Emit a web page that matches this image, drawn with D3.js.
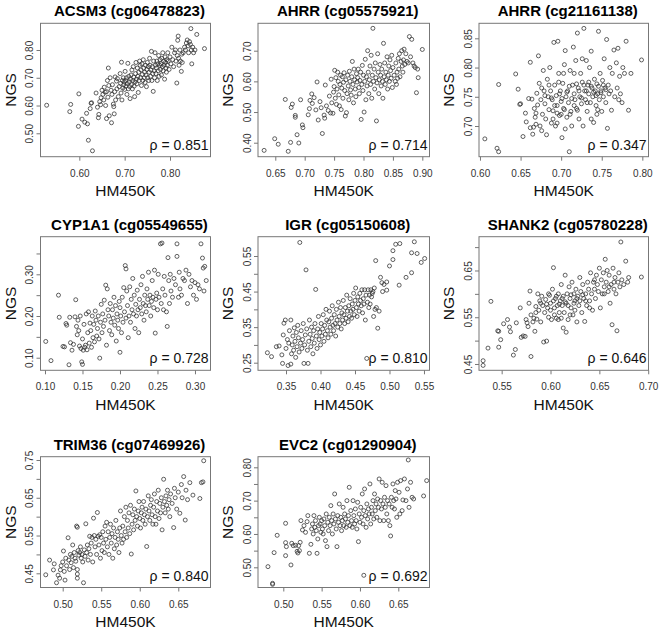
<!DOCTYPE html>
<html><head><meta charset="utf-8">
<script src="https://cdn.jsdelivr.net/npm/d3@7"></script>
<style>body{margin:0;background:#fff}svg{display:block}</style>
</head><body><svg id="c" width="660" height="630"></svg>
<script>
const titles = ["ACSM3 (cg06478823)","AHRR (cg05575921)","AHRR (cg21161138)","CYP1A1 (cg05549655)","IGR (cg05150608)","SHANK2 (cg05780228)","TRIM36 (cg07469926)","EVC2 (cg01290904)"];
const rhos = ["0.851","0.714","0.347","0.728","0.810","0.646","0.840","0.692"];
const xTicks = [[0.60,0.70,0.80],[0.65,0.70,0.75,0.80,0.85,0.90],[0.60,0.65,0.70,0.75,0.80],[0.10,0.15,0.20,0.25,0.30],[0.35,0.40,0.45,0.50,0.55],[0.55,0.60,0.65,0.70],[0.50,0.55,0.60,0.65],[0.50,0.55,0.60,0.65]];
const yTicks = [[0.50,0.60,0.70,0.80],[0.40,0.50,0.60,0.70],[0.70,0.75,0.80,0.85],[0.10,0.15,0.20,0.25,0.30,0.35],[0.25,0.30,0.35,0.40,0.45,0.50,0.55],[0.45,0.50,0.55,0.60,0.65,0.70],[0.45,0.50,0.55,0.60,0.65,0.70,0.75],[0.50,0.55,0.60,0.65,0.70,0.75,0.80]];
const yTickLabels = [[0.50,0.60,0.70,0.80],[0.40,0.50,0.60,0.70],[0.70,0.75,0.80,0.85],[0.10,0.20,0.30],[0.25,0.35,0.45,0.55],[0.45,0.55,0.65],[0.45,0.55,0.65,0.75],[0.50,0.60,0.70,0.80]];
const xDomains = [[0.5144,0.8893],[0.6206,0.9122],[0.5988,0.8076],[0.094,0.3207],[0.3094,0.558],[0.5268,0.7003],[0.4712,0.6918],[0.467,0.6907]];
const yDomains = [[0.4157,0.8961],[0.3544,0.7893],[0.6475,0.8757],[0.0698,0.3902],[0.2286,0.6043],[0.4365,0.7223],[0.4124,0.7587],[0.4394,0.8318]];

const acsm3 = [[0.528,0.601],[0.579,0.578],[0.581,0.604],[0.599,0.642],[0.598,0.525],[0.606,0.551],[0.612,0.540],[0.618,0.534],[0.620,0.475],[0.629,0.437],[0.616,0.572],[0.624,0.589],[0.626,0.608],[0.627,0.61],
[0.637,0.645],[0.640,0.594],[0.642,0.556],[0.643,0.568],[0.645,0.614],[0.647,0.603],[0.648,0.628],[0.650,0.655],[0.652,0.640],[0.654,0.620],[0.655,0.666],[0.657,0.648],[0.658,0.600],[0.660,0.553],[0.660,0.650],[0.662,0.690],[0.663,0.630],[0.664,0.735],[0.665,0.672],[0.666,0.563],
[0.668,0.700],[0.670,0.655],[0.671,0.538],[0.672,0.640],[0.673,0.675],[0.675,0.605],[0.676,0.596],[0.677,0.570],[0.678,0.650],[0.679,0.703],[0.680,0.620],[0.682,0.688],[0.683,0.660],[0.684,0.697],[0.686,0.632],[0.688,0.668],[0.690,0.715],[0.691,0.680],[0.692,0.645],[0.693,0.756],[0.694,0.620],[0.695,0.690],[0.696,0.663],[0.697,0.700],[0.698,0.675],[0.699,0.685],
[0.700,0.658],[0.701,0.723],[0.702,0.690],[0.703,0.670],[0.704,0.700],[0.705,0.640],[0.706,0.679],[0.707,0.752],[0.708,0.660],[0.709,0.705],[0.710,0.685],[0.711,0.668],[0.712,0.625],[0.713,0.695],[0.714,0.710],[0.715,0.675],[0.716,0.728],[0.717,0.660],[0.718,0.690],[0.719,0.740],[0.720,0.702],[0.721,0.670],[0.722,0.632],[0.723,0.685],[0.724,0.715],[0.725,0.755],[0.726,0.695],[0.727,0.678],[0.728,0.735],[0.729,0.705],[0.730,0.647],[0.731,0.720],[0.732,0.690],[0.733,0.760],[0.734,0.745],[0.735,0.700],[0.736,0.728],[0.737,0.672],[0.738,0.750],[0.739,0.712],[0.740,0.690],[0.741,0.765],[0.742,0.735],
[0.743,0.700],[0.744,0.720],[0.745,0.683],[0.746,0.745],[0.747,0.710],[0.748,0.668],[0.749,0.730],[0.750,0.755],[0.751,0.700],[0.752,0.740],[0.753,0.690],[0.754,0.720],[0.755,0.770],[0.756,0.745],[0.757,0.705],[0.758,0.728],[0.759,0.795],[0.760,0.690],[0.761,0.740],[0.762,0.715],[0.763,0.651],[0.764,0.760],[0.765,0.725],[0.766,0.700],[0.767,0.790],[0.768,0.745],[0.769,0.715],[0.770,0.735],[0.771,0.760],[0.772,0.690],[0.773,0.750],[0.774,0.725],[0.775,0.780],[0.776,0.705],[0.777,0.745],[0.778,0.765],[0.779,0.730],
[0.780,0.750],[0.781,0.710],[0.782,0.770],[0.783,0.740],[0.784,0.790],[0.785,0.725],[0.786,0.760],[0.787,0.745],[0.788,0.695],[0.789,0.775],[0.790,0.755],[0.791,0.735],[0.792,0.720],[0.793,0.765],[0.794,0.745],[0.795,0.790],[0.796,0.760],[0.798,0.730],[0.800,0.775],[0.802,0.750],[0.804,0.810],[0.806,0.765],[0.808,0.740],[0.810,0.790],[0.812,0.800],[0.813,0.760],[0.815,0.681],[0.816,0.780],[0.817,0.835],[0.818,0.850],[0.819,0.770],[0.820,0.745],[0.822,0.800],[0.823,0.760],[0.825,0.723],[0.826,0.785],[0.827,0.755],[0.829,0.790],
[0.832,0.810],[0.834,0.800],[0.836,0.825],[0.838,0.836],[0.840,0.815],[0.841,0.790],[0.843,0.830],[0.845,0.820],[0.846,0.877],[0.847,0.800],[0.848,0.750],[0.850,0.810],[0.852,0.790],[0.855,0.800],[0.859,0.856],[0.876,0.805]];

const ahrr1 = [[0.631,0.375],[0.649,0.413],[0.655,0.395],[0.667,0.541],[0.672,0.372],[0.676,0.401],[0.677,0.515],[0.679,0.526],[0.684,0.489],[0.684,0.483],[0.687,0.426],[0.690,0.399],[0.693,0.540],[0.696,0.458],[0.697,0.449],[0.706,0.491],[0.708,0.511],[0.709,0.538],[0.712,0.559],[0.713,0.528],[0.716,0.547],[0.719,0.507],[0.721,0.598],[0.723,0.474],[0.726,0.534],[0.728,0.514],[0.730,0.430],[0.733,0.490],[0.734,0.480],[0.735,0.588],[0.737,0.520],[0.740,0.505],[0.742,0.552],[0.744,0.497],[0.745,0.607],[0.746,0.530],[0.748,0.496],[0.749,0.565],[0.750,0.583],[0.751,0.636],[0.752,0.545],[0.753,0.612],[0.754,0.525],[0.755,0.575],[0.756,0.630],[0.757,0.600],[0.758,0.556],[0.759,0.520],[0.760,0.590],[0.761,0.620],[0.762,0.508],[0.763,0.578],[0.764,0.615],[0.765,0.545],[0.766,0.597],[0.767,0.628],[0.768,0.570],[0.769,0.487],[0.770,0.605],[0.771,0.498],[0.772,0.560],[0.773,0.620],[0.774,0.585],[0.775,0.540],[0.776,0.633],[0.777,0.600],[0.778,0.572],[0.779,0.555],[0.780,0.615],[0.781,0.665],[0.782,0.590],[0.783,0.530],[0.784,0.640],[0.785,0.605],[0.786,0.575],[0.787,0.550],[0.788,0.625],[0.789,0.598],[0.790,0.612],[0.791,0.640],[0.792,0.580],[0.793,0.560],[0.794,0.603],[0.795,0.630],[0.796,0.476],[0.797,0.590],[0.798,0.652],[0.799,0.570],[0.800,0.620],[0.801,0.500],[0.802,0.600],[0.803,0.672],[0.804,0.540],[0.805,0.615],[0.806,0.585],[0.807,0.700],[0.808,0.630],[0.809,0.560],[0.810,0.605],[0.811,0.650],[0.812,0.590],[0.813,0.685],[0.814,0.545],[0.815,0.620],[0.816,0.773],[0.817,0.600],[0.818,0.640],[0.819,0.575],[0.820,0.660],[0.821,0.612],[0.822,0.471],[0.823,0.595],[0.824,0.690],[0.825,0.630],[0.826,0.560],[0.827,0.605],[0.828,0.655],[0.829,0.620],[0.830,0.585],[0.831,0.640],[0.832,0.600],[0.833,0.545],[0.834,0.724],[0.835,0.615],[0.836,0.660],[0.837,0.590],[0.838,0.630],[0.839,0.605],[0.840,0.680],[0.841,0.575],[0.842,0.620],[0.843,0.650],[0.844,0.600],[0.845,0.670],[0.846,0.635],[0.847,0.610],[0.848,0.685],[0.849,0.580],[0.850,0.645],[0.852,0.620],[0.854,0.600],[0.855,0.660],[0.856,0.590],[0.857,0.630],[0.858,0.610],[0.859,0.675],[0.860,0.640],[0.861,0.690],[0.862,0.615],[0.864,0.665],[0.865,0.700],[0.866,0.650],[0.867,0.630],[0.868,0.670],[0.869,0.705],[0.870,0.655],[0.872,0.690],[0.874,0.665],[0.876,0.660],[0.878,0.746],[0.880,0.680],[0.882,0.737],[0.884,0.660],[0.886,0.650],[0.888,0.645],[0.890,0.563],[0.892,0.640],[0.893,0.612],[0.900,0.704]];

const ahrr2 = [[0.606,0.678],[0.621,0.662],[0.623,0.656],[0.623,0.771],[0.644,0.789],[0.647,0.763],[0.649,0.737],[0.650,0.738],[0.653,0.682],[0.656,0.722],[0.657,0.707],[0.660,0.747],[0.662,0.809],[0.664,0.746],[0.665,0.686],[0.666,0.698],[0.667,0.730],[0.668,0.715],[0.669,0.703],[0.670,0.756],[0.671,0.736],[0.672,0.820],[0.673,0.773],[0.674,0.700],[0.675,0.745],[0.676,0.692],[0.677,0.720],[0.678,0.795],[0.679,0.760],[0.680,0.738],[0.681,0.712],[0.682,0.685],[0.683,0.780],[0.684,0.750],[0.685,0.728],[0.686,0.800],[0.687,0.760],[0.688,0.705],[0.689,0.745],[0.690,0.726],[0.691,0.843],[0.692,0.770],[0.693,0.700],[0.694,0.752],[0.695,0.735],[0.696,0.845],[0.697,0.790],[0.698,0.718],[0.699,0.760],[0.700,0.742],[0.701,0.680],[0.702,0.773],[0.703,0.730],[0.704,0.805],[0.705,0.829],[0.706,0.750],[0.707,0.715],[0.708,0.760],[0.709,0.740],[0.710,0.656],[0.711,0.795],[0.712,0.725],[0.713,0.700],[0.714,0.770],[0.715,0.835],[0.716,0.755],[0.717,0.745],[0.718,0.812],[0.719,0.730],[0.720,0.859],[0.721,0.765],[0.722,0.712],[0.723,0.750],[0.724,0.790],[0.725,0.738],[0.726,0.775],[0.727,0.700],[0.728,0.867],[0.729,0.760],[0.730,0.745],[0.731,0.812],[0.732,0.725],[0.733,0.770],[0.734,0.755],[0.735,0.800],[0.736,0.740],[0.737,0.828],[0.738,0.765],[0.739,0.750],[0.740,0.706],[0.741,0.780],[0.742,0.760],[0.743,0.735],[0.744,0.772],[0.745,0.755],[0.746,0.862],[0.747,0.745],[0.748,0.790],[0.749,0.760],[0.750,0.725],[0.751,0.778],[0.752,0.750],[0.753,0.815],[0.754,0.765],[0.755,0.740],[0.756,0.848],[0.757,0.696],[0.758,0.770],[0.759,0.755],[0.760,0.800],[0.761,0.760],[0.762,0.727],[0.763,0.790],[0.765,0.830],[0.766,0.750],[0.768,0.808],[0.769,0.765],[0.770,0.833],[0.771,0.745],[0.772,0.785],[0.773,0.755],[0.775,0.740],[0.776,0.800],[0.778,0.790],[0.780,0.845],[0.783,0.727],[0.786,0.790],[0.799,0.813],
[0.688,0.748],[0.692,0.735],[0.695,0.722],[0.698,0.755],[0.701,0.747],[0.704,0.728],[0.707,0.758],[0.710,0.768],[0.713,0.747],[0.716,0.735],[0.719,0.772],[0.722,0.760],[0.725,0.748],[0.728,0.770],[0.731,0.760],[0.734,0.775],[0.737,0.768],[0.740,0.758],[0.743,0.752],[0.746,0.768],[0.749,0.757],[0.752,0.770],[0.755,0.762],[0.690,0.712],[0.700,0.720],[0.711,0.720],[0.720,0.727],[0.732,0.740],[0.745,0.728],[0.680,0.752],[0.676,0.765],[0.685,0.770],[0.697,0.775],[0.703,0.790],[0.716,0.790],[0.726,0.815],[0.744,0.720],[0.737,0.712],[0.705,0.695],[0.695,0.705],[0.669,0.722],[0.662,0.697]];

const cyp1a1 = [[0.101,0.139],[0.108,0.093],[0.118,0.250],[0.119,0.197],[0.124,0.127],[0.126,0.126],[0.128,0.182],[0.129,0.178],[0.132,0.083],[0.133,0.197],[0.134,0.136],[0.136,0.118],[0.138,0.132],[0.140,0.198],[0.141,0.239],[0.142,0.175],[0.143,0.155],[0.144,0.190],[0.145,0.165],[0.146,0.128],[0.147,0.200],[0.148,0.122],[0.149,0.090],[0.150,0.084],[0.150,0.145],[0.151,0.118],[0.152,0.180],[0.153,0.125],[0.154,0.130],[0.155,0.205],[0.156,0.119],[0.157,0.160],[0.158,0.210],[0.159,0.135],
[0.160,0.183],[0.161,0.165],[0.162,0.125],[0.163,0.200],[0.164,0.148],[0.165,0.180],[0.166,0.138],[0.167,0.212],[0.168,0.190],[0.169,0.152],[0.170,0.170],[0.171,0.200],[0.172,0.145],[0.173,0.099],[0.174,0.185],[0.175,0.228],[0.176,0.160],[0.177,0.205],[0.178,0.175],[0.179,0.238],[0.180,0.190],[0.181,0.274],[0.182,0.130],[0.183,0.265],[0.184,0.215],[0.185,0.200],[0.186,0.165],[0.187,0.230],[0.188,0.185],[0.189,0.155],[0.190,0.215],[0.191,0.195],[0.192,0.245],[0.193,0.178],[0.194,0.225],[0.195,0.140],[0.196,0.205],[0.197,0.190],[0.198,0.170],[0.199,0.235],
[0.200,0.113],[0.200,0.220],[0.201,0.200],[0.202,0.160],[0.203,0.245],[0.204,0.185],[0.205,0.268],[0.206,0.210],[0.207,0.321],[0.208,0.313],[0.208,0.195],[0.209,0.260],[0.210,0.225],[0.211,0.148],[0.212,0.200],[0.213,0.270],[0.214,0.185],[0.215,0.240],[0.216,0.215],[0.217,0.290],[0.218,0.205],[0.219,0.250],[0.220,0.170],[0.221,0.228],[0.222,0.200],[0.223,0.262],[0.224,0.215],[0.225,0.160],[0.226,0.240],[0.227,0.220],[0.228,0.275],[0.229,0.205],[0.230,0.295],[0.231,0.230],[0.232,0.190],[0.233,0.250],[0.234,0.225],[0.235,0.210],[0.236,0.265],[0.237,0.240],[0.238,0.305],[0.239,0.225],
[0.240,0.250],[0.241,0.200],[0.242,0.235],[0.243,0.285],[0.244,0.245],[0.245,0.220],[0.246,0.310],[0.247,0.159],[0.248,0.240],[0.249,0.255],[0.250,0.215],[0.251,0.300],[0.252,0.245],[0.254,0.373],[0.255,0.230],[0.256,0.375],[0.257,0.265],[0.258,0.215],[0.259,0.295],[0.260,0.250],[0.262,0.210],[0.263,0.175],[0.264,0.340],[0.265,0.285],[0.266,0.230],[0.267,0.300],[0.268,0.260],[0.270,0.245],[0.272,0.290],[0.274,0.275],[0.276,0.343],[0.276,0.373],[0.278,0.245],[0.279,0.305],[0.280,0.265],[0.282,0.250],[0.284,0.290],[0.286,0.285],[0.288,0.310],[0.290,0.230],[0.292,0.300],[0.294,0.270],[0.296,0.285],[0.298,0.250],[0.300,0.280],[0.302,0.240],[0.304,0.275],[0.306,0.265],[0.308,0.373],[0.310,0.339],[0.311,0.315],[0.312,0.260],[0.313,0.319],[0.315,0.285]];

const igr = [[0.323,0.278],[0.329,0.267],[0.336,0.295],[0.340,0.297],[0.344,0.272],[0.345,0.248],[0.346,0.328],[0.347,0.361],[0.349,0.370],[0.350,0.290],[0.352,0.315],[0.353,0.242],[0.354,0.305],[0.355,0.340],[0.357,0.370],[0.357,0.246],[0.358,0.275],[0.359,0.300],[0.360,0.325],[0.361,0.285],[0.362,0.348],[0.363,0.310],[0.364,0.265],[0.365,0.335],[0.366,0.295],[0.367,0.355],[0.368,0.320],[0.369,0.280],[0.370,0.588],[0.371,0.305],[0.372,0.340],[0.373,0.290],[0.374,0.315],[0.375,0.360],[0.376,0.248],[0.377,0.300],[0.378,0.328],[0.379,0.511],[0.380,0.345],[0.381,0.285],[0.382,0.248],[0.383,0.310],[0.384,0.370],[0.385,0.330],[0.386,0.295],[0.387,0.350],[0.388,0.318],[0.389,0.275],[0.390,0.340],[0.391,0.305],[0.392,0.360],[0.393,0.456],[0.394,0.325],[0.395,0.290],[0.396,0.345],[0.397,0.380],[0.398,0.315],[0.399,0.335],[0.400,0.300],[0.401,0.360],[0.402,0.325],[0.403,0.345],[0.404,0.385],[0.405,0.310],[0.406,0.355],[0.407,0.330],[0.408,0.400],[0.409,0.370],[0.410,0.340],[0.411,0.320],[0.412,0.365],[0.413,0.395],[0.414,0.350],[0.415,0.330],[0.416,0.375],[0.417,0.410],[0.418,0.355],[0.419,0.340],[0.420,0.385],[0.421,0.360],[0.422,0.325],[0.423,0.400],[0.424,0.370],[0.425,0.350],[0.426,0.420],[0.427,0.380],[0.428,0.360],[0.429,0.405],[0.430,0.345],[0.431,0.390],[0.432,0.370],[0.433,0.425],[0.434,0.385],[0.435,0.360],[0.436,0.405],[0.437,0.375],[0.438,0.440],[0.439,0.395],[0.440,0.365],[0.441,0.410],[0.442,0.380],[0.443,0.430],[0.444,0.395],[0.445,0.375],[0.446,0.415],[0.447,0.400],[0.448,0.445],[0.449,0.385],[0.450,0.425],[0.451,0.460],[0.452,0.405],[0.453,0.380],[0.454,0.435],[0.455,0.415],[0.456,0.395],[0.457,0.445],[0.458,0.425],[0.459,0.410],[0.460,0.455],[0.461,0.390],[0.462,0.430],[0.463,0.415],[0.464,0.455],[0.465,0.370],[0.466,0.440],[0.467,0.262],[0.468,0.420],[0.469,0.455],[0.470,0.405],[0.471,0.440],[0.472,0.415],[0.473,0.455],[0.474,0.435],[0.475,0.445],[0.476,0.450],[0.477,0.380],[0.478,0.460],[0.479,0.400],[0.480,0.537],[0.481,0.405],[0.483,0.347],[0.485,0.395],[0.487,0.490],[0.489,0.475],[0.490,0.450],[0.492,0.470],[0.496,0.477],[0.496,0.454],[0.500,0.522],[0.505,0.540],[0.505,0.565],[0.509,0.583],[0.514,0.468],[0.515,0.585],[0.524,0.490],[0.532,0.503],[0.532,0.559],[0.536,0.590],[0.540,0.557],[0.546,0.532],[0.551,0.543]];

const shank2 = [[0.531,0.457],[0.531,0.447],[0.536,0.484],[0.539,0.584],[0.546,0.521],[0.547,0.520],[0.547,0.486],[0.549,0.502],[0.552,0.536],[0.556,0.545],[0.558,0.529],[0.559,0.519],[0.562,0.469],[0.564,0.481],[0.565,0.538],[0.569,0.570],[0.570,0.507],[0.572,0.510],[0.574,0.509],[0.575,0.545],[0.576,0.538],[0.577,0.530],[0.578,0.580],[0.579,0.606],[0.580,0.466],[0.580,0.555],[0.582,0.540],[0.583,0.548],[0.584,0.520],[0.585,0.573],[0.586,0.546],[0.587,0.600],[0.588,0.565],[0.589,0.585],[0.590,0.540],[0.591,0.595],[0.592,0.575],[0.593,0.497],[0.594,0.560],[0.595,0.588],[0.596,0.499],[0.597,0.570],[0.598,0.550],[0.599,0.597],[0.600,0.580],[0.601,0.545],[0.602,0.610],[0.603,0.656],[0.604,0.570],[0.605,0.590],[0.606,0.548],[0.607,0.575],[0.608,0.600],[0.609,0.560],[0.610,0.585],[0.611,0.620],[0.612,0.575],[0.613,0.527],[0.613,0.595],[0.614,0.560],[0.615,0.640],[0.616,0.518],[0.616,0.580],[0.617,0.600],[0.618,0.545],[0.619,0.615],[0.620,0.590],[0.621,0.570],[0.622,0.625],[0.623,0.555],[0.624,0.600],[0.625,0.585],[0.626,0.610],[0.627,0.540],[0.628,0.595],[0.629,0.575],[0.630,0.635],[0.631,0.605],[0.632,0.560],[0.633,0.620],[0.634,0.590],[0.635,0.541],[0.636,0.600],[0.637,0.575],[0.638,0.625],[0.639,0.610],[0.640,0.585],[0.641,0.645],[0.642,0.600],[0.643,0.565],[0.644,0.625],[0.645,0.610],[0.646,0.590],[0.647,0.640],[0.648,0.620],[0.649,0.605],[0.650,0.655],[0.651,0.570],[0.652,0.630],[0.653,0.600],[0.654,0.645],[0.655,0.615],[0.656,0.674],[0.657,0.625],[0.658,0.650],[0.659,0.605],[0.660,0.640],[0.661,0.580],[0.662,0.620],[0.663,0.534],[0.664,0.655],[0.665,0.610],[0.666,0.635],[0.667,0.600],[0.668,0.521],[0.669,0.625],[0.670,0.645],[0.671,0.615],[0.672,0.711],[0.673,0.630],[0.675,0.620],[0.677,0.670],[0.679,0.625],[0.680,0.635],[0.693,0.636],
[0.596,0.578],[0.600,0.565],[0.603,0.585],[0.606,0.595],[0.609,0.578],[0.612,0.590],[0.615,0.583],[0.618,0.575],[0.621,0.598],[0.624,0.580],[0.627,0.590],[0.630,0.585],[0.633,0.598],[0.636,0.585],[0.608,0.545],[0.611,0.548],[0.604,0.555],[0.620,0.555],[0.625,0.565],[0.640,0.570],[0.645,0.630],[0.655,0.600],[0.660,0.615],[0.665,0.625],[0.590,0.580],[0.585,0.560],[0.598,0.600]];

const trim36 = [[0.478,0.446],[0.483,0.485],[0.488,0.459],[0.489,0.475],[0.492,0.425],[0.494,0.445],[0.496,0.437],[0.497,0.459],[0.498,0.470],[0.500,0.480],[0.501,0.509],[0.502,0.455],[0.503,0.432],[0.504,0.490],[0.505,0.470],[0.507,0.544],[0.508,0.485],[0.509,0.460],[0.510,0.500],[0.511,0.478],[0.512,0.495],[0.513,0.525],[0.514,0.465],[0.515,0.505],[0.516,0.490],[0.517,0.482],[0.518,0.575],[0.519,0.572],[0.519,0.460],[0.519,0.448],[0.519,0.437],[0.520,0.510],[0.521,0.498],[0.522,0.505],[0.523,0.520],[0.524,0.490],[0.525,0.500],[0.526,0.480],[0.527,0.425],[0.528,0.512],[0.529,0.495],[0.530,0.581],[0.531,0.505],[0.532,0.525],[0.533,0.485],[0.534,0.515],[0.535,0.548],[0.536,0.500],[0.537,0.530],[0.538,0.545],[0.539,0.480],[0.540,0.596],[0.541,0.550],[0.542,0.520],[0.543,0.540],[0.544,0.500],[0.545,0.611],[0.546,0.548],[0.547,0.525],[0.548,0.552],[0.549,0.490],[0.550,0.545],[0.551,0.510],[0.552,0.560],[0.553,0.530],[0.554,0.505],[0.555,0.575],[0.556,0.540],[0.557,0.585],[0.558,0.520],[0.559,0.560],[0.560,0.500],[0.561,0.545],[0.562,0.580],[0.563,0.530],[0.564,0.555],[0.565,0.490],[0.566,0.570],[0.567,0.515],[0.568,0.545],[0.569,0.590],[0.570,0.525],[0.571,0.560],[0.572,0.540],[0.573,0.505],[0.574,0.570],[0.575,0.615],[0.576,0.550],[0.577,0.530],[0.578,0.575],[0.579,0.540],[0.580,0.600],[0.581,0.560],[0.582,0.625],[0.583,0.545],[0.584,0.590],[0.585,0.570],[0.586,0.610],[0.587,0.555],[0.588,0.630],[0.589,0.501],[0.590,0.580],[0.591,0.605],[0.592,0.565],[0.593,0.620],[0.594,0.590],[0.595,0.668],[0.596,0.600],[0.597,0.575],[0.598,0.615],[0.599,0.640],[0.600,0.595],[0.601,0.570],[0.602,0.610],[0.603,0.625],[0.604,0.590],[0.605,0.640],[0.606,0.605],[0.607,0.580],[0.608,0.620],[0.609,0.521],[0.610,0.600],[0.611,0.655],[0.612,0.615],[0.613,0.590],[0.614,0.630],[0.615,0.645],[0.616,0.605],[0.617,0.580],[0.618,0.625],[0.619,0.660],[0.620,0.600],[0.621,0.580],[0.622,0.640],[0.623,0.615],[0.624,0.670],[0.625,0.595],[0.626,0.635],[0.627,0.610],[0.628,0.650],[0.629,0.565],[0.630,0.625],[0.631,0.699],[0.632,0.640],[0.633,0.610],[0.634,0.655],[0.635,0.630],[0.636,0.670],[0.637,0.620],[0.638,0.645],[0.639,0.600],[0.640,0.660],[0.642,0.635],[0.644,0.571],[0.645,0.675],[0.646,0.650],[0.648,0.620],[0.650,0.665],[0.652,0.609],[0.654,0.685],[0.655,0.650],[0.657,0.706],[0.659,0.591],[0.660,0.670],[0.662,0.645],[0.665,0.690],[0.669,0.657],[0.678,0.648],[0.680,0.690],[0.682,0.692],[0.683,0.748]];

const evc2 = [[0.480,0.502],[0.486,0.452],[0.486,0.449],[0.488,0.544],[0.492,0.596],[0.503,0.632],[0.503,0.574],[0.504,0.562],[0.503,0.535],[0.510,0.507],[0.511,0.572],[0.513,0.565],[0.516,0.566],[0.518,0.548],[0.519,0.543],[0.520,0.565],[0.521,0.550],[0.522,0.575],[0.523,0.640],[0.525,0.612],[0.527,0.625],[0.529,0.605],[0.531,0.637],[0.532,0.655],[0.534,0.542],[0.536,0.569],[0.537,0.615],[0.538,0.630],[0.539,0.600],[0.540,0.655],[0.541,0.620],[0.542,0.640],[0.543,0.610],[0.544,0.542],[0.545,0.585],[0.546,0.625],[0.547,0.650],[0.548,0.630],[0.549,0.605],[0.550,0.640],[0.551,0.615],[0.552,0.600],[0.553,0.645],[0.554,0.625],[0.555,0.580],[0.556,0.660],[0.557,0.562],[0.558,0.635],[0.559,0.610],[0.560,0.650],[0.561,0.625],[0.562,0.685],[0.563,0.640],[0.564,0.600],[0.565,0.660],[0.566,0.630],[0.567,0.720],[0.568,0.645],[0.569,0.615],[0.570,0.562],[0.571,0.655],[0.572,0.635],[0.573,0.690],[0.574,0.625],[0.575,0.650],[0.576,0.610],[0.577,0.640],[0.578,0.680],[0.579,0.625],[0.580,0.660],[0.581,0.645],[0.582,0.620],[0.583,0.700],[0.584,0.635],[0.585,0.655],[0.586,0.740],[0.587,0.625],[0.588,0.670],[0.589,0.640],[0.590,0.620],[0.591,0.700],[0.592,0.655],[0.593,0.630],[0.594,0.675],[0.595,0.640],[0.596,0.615],[0.597,0.695],[0.598,0.577],[0.599,0.660],[0.600,0.635],[0.601,0.680],[0.602,0.650],[0.603,0.720],[0.604,0.630],[0.605,0.476],[0.605,0.670],[0.606,0.735],[0.607,0.655],[0.608,0.620],[0.609,0.690],[0.610,0.645],[0.611,0.675],[0.612,0.660],[0.613,0.750],[0.614,0.630],[0.615,0.680],[0.616,0.660],[0.617,0.700],[0.618,0.645],[0.619,0.720],[0.620,0.670],[0.621,0.690],[0.622,0.650],[0.623,0.705],[0.624,0.680],[0.625,0.765],[0.626,0.640],[0.627,0.700],[0.628,0.675],[0.629,0.755],[0.630,0.690],[0.631,0.640],[0.632,0.710],[0.633,0.680],[0.634,0.745],[0.635,0.660],[0.636,0.700],[0.637,0.640],[0.638,0.690],[0.639,0.625],[0.640,0.594],[0.641,0.710],[0.642,0.680],[0.643,0.750],[0.644,0.700],[0.645,0.675],[0.646,0.730],[0.647,0.705],[0.648,0.650],[0.649,0.755],[0.651,0.725],[0.652,0.660],[0.653,0.760],[0.655,0.670],[0.656,0.702],[0.658,0.765],[0.660,0.700],[0.662,0.735],[0.663,0.822],[0.664,0.680],[0.666,0.755],[0.668,0.710],[0.670,0.705],[0.683,0.714],[0.687,0.760]];

const seriesList = [acsm3, ahrr1, ahrr2, cyp1a1, igr, shank2, trim36, evc2];

// layout (pixel boxes of plotting regions)
const colX = [[40.5,210.5],[258,429.5],[479,648.5]];
const rowY = [[23.3,156.7],[236.7,370.3],[456.7,587.5]];
const FONT = "'Liberation Sans', Arial, Helvetica, sans-serif";
const svg = d3.select("#c");
const fmt = d3.format(".2f");

seriesList.forEach((pts, i) => {
  const [x0, x1] = colX[i % 3];
  const [y0, y1] = rowY[Math.floor(i / 3)];
  const x = d3.scaleLinear().domain(xDomains[i]).range([x0, x1]);
  const y = d3.scaleLinear().domain(yDomains[i]).range([y1, y0]);
  const g = svg.append("g");

  g.append("g").selectAll("circle").data(pts).join("circle")
    .attr("cx", d => x(d[0])).attr("cy", d => y(d[1])).attr("r", 2)
    .attr("fill", "none").attr("stroke", "#2e2e2e").attr("stroke-width", 0.75);

  g.append("rect").attr("x", x0).attr("y", y0).attr("width", x1 - x0).attr("height", y1 - y0)
    .attr("fill", "none").attr("stroke", "#777").attr("stroke-width", 1);

  const xa = g.append("g").attr("transform", `translate(0,${y1})`)
    .call(d3.axisBottom(x).tickValues(xTicks[i]).tickFormat(fmt).tickSize(4).tickPadding(4));
  xa.select(".domain").remove();
  xa.selectAll("line").attr("stroke", "#777");
  xa.selectAll("text").attr("font-family", FONT).attr("font-size", 10).attr("fill", "#333")
    .attr("dy", null).attr("y", 20);

  const lab = new Set(yTickLabels[i].map(v => v.toFixed(2)));
  const ya = g.append("g").attr("transform", `translate(${x0},0)`)
    .call(d3.axisLeft(y).tickValues(yTicks[i]).tickFormat(v => lab.has(v.toFixed(2)) ? fmt(v) : "").tickSize(4));
  ya.select(".domain").remove();
  ya.selectAll("line").attr("stroke", "#777");
  ya.selectAll("text").attr("font-family", FONT).attr("font-size", 10).attr("fill", "#333")
    .attr("x", null).attr("dy", null).attr("text-anchor", "middle")
    .attr("transform", "translate(-7.5,0) rotate(-90)");

  g.append("text").attr("x", (x0 + x1) / 2 + 4).attr("y", y0 - 7).attr("text-anchor", "middle")
    .attr("font-family", FONT).attr("font-weight", "bold").attr("font-size", 15).attr("fill", "#000")
    .text(titles[i]);
  g.append("text").attr("x", (x0 + x1) / 2).attr("y", y1 + 39.5).attr("text-anchor", "middle")
    .attr("font-family", FONT).attr("font-size", 15.5).attr("fill", "#111").text("HM450K");
  g.append("text").attr("transform", `translate(${x0 - 25},${(y0 + y1) / 2}) rotate(-90)`)
    .attr("text-anchor", "middle").attr("font-family", FONT).attr("font-size", 15.5).attr("fill", "#111").text("NGS");
  g.append("text").attr("x", x1 - 2).attr("y", y1 - 7).attr("text-anchor", "end")
    .attr("font-family", FONT).attr("font-size", 14).attr("fill", "#111").text("ρ = " + rhos[i]);
});
</script></body></html>
